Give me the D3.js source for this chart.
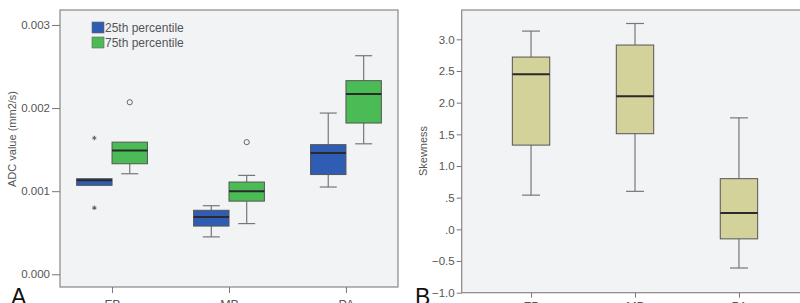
<!DOCTYPE html>
<html>
<head>
<meta charset="utf-8">
<script src="https://cdn.jsdelivr.net/npm/d3@7"></script>
<style>
  body { margin: 0; background: #fff; }
  svg { display: block; font-family: "Liberation Sans", Arial, sans-serif; }
  .tick text { fill: #555; font-size: 11.5px; }
  .tick line { stroke: #777; }
  .domain { display: none; }
</style>
</head>
<body>
<div id="chart"></div>
<script>
const categories = ['FB', 'MB', 'PA'];
const seriesNames = ['25th percentile', '75th percentile'];

// each row: [lower whisker, Q1, median, Q3, upper whisker]
const adc25 = [
  [0.00107, 0.00107, 0.00113, 0.00115, 0.00115],
  [0.00045, 0.00058, 0.00069, 0.00077, 0.000825],
  [0.00105, 0.00120, 0.00146, 0.00156, 0.00194]
];
const adc75 = [
  [0.00121, 0.00133, 0.00149, 0.00159, 0.00159],
  [0.00061, 0.00088, 0.00100, 0.00111, 0.00119],
  [0.00157, 0.00182, 0.00217, 0.00233, 0.00263]
];
const adcOutliers = [
  { cat: 'FB', series: 0, value: 0.00164, kind: 'star' },
  { cat: 'FB', series: 0, value: 0.00080, kind: 'star' },
  { cat: 'FB', series: 1, value: 0.00207, kind: 'circle' },
  { cat: 'MB', series: 1, value: 0.00159, kind: 'circle' }
];
const skewness = [
  [0.54, 1.33, 2.45, 2.72, 3.13],
  [0.60, 1.51, 2.10, 2.91, 3.25],
  [-0.61, -0.15, 0.26, 0.80, 1.76]
];
const adcTicks = [0, 0.001, 0.002, 0.003];
const skewTicks = [-1, -0.5, 0, 0.5, 1, 1.5, 2, 2.5, 3];

const seriesColors = ['#2f5db3', '#4bbb55'];
const skewColor = '#d4d29b';

const W = 800, H = 303;
const svg = d3.select('#chart').append('svg')
  .attr('width', W)
  .attr('height', H);

function drawBox(g, cx, half, stats, y, fill) {
  const [lo, q1, med, q3, hi] = stats;
  const cap = half * 0.48;
  g.append('line')
    .attr('x1', cx).attr('x2', cx)
    .attr('y1', y(hi)).attr('y2', y(q3))
    .attr('stroke', '#777').attr('stroke-width', 1.2);
  g.append('line')
    .attr('x1', cx).attr('x2', cx)
    .attr('y1', y(q1)).attr('y2', y(lo))
    .attr('stroke', '#777').attr('stroke-width', 1.2);
  if (hi > q3) {
    g.append('line')
      .attr('x1', cx - cap).attr('x2', cx + cap)
      .attr('y1', y(hi)).attr('y2', y(hi))
      .attr('stroke', '#777').attr('stroke-width', 1.2);
  }
  if (lo < q1) {
    g.append('line')
      .attr('x1', cx - cap).attr('x2', cx + cap)
      .attr('y1', y(lo)).attr('y2', y(lo))
      .attr('stroke', '#777').attr('stroke-width', 1.2);
  }
  g.append('rect')
    .attr('x', cx - half)
    .attr('y', y(q3))
    .attr('width', half * 2)
    .attr('height', Math.max(y(q1) - y(q3), 1))
    .attr('fill', fill)
    .attr('stroke', '#555')
    .attr('stroke-width', 1);
  g.append('line')
    .attr('x1', cx - half).attr('x2', cx + half)
    .attr('y1', y(med)).attr('y2', y(med))
    .attr('stroke', '#2a2a2a').attr('stroke-width', 2);
}

// =====================
// PANEL A: ADC values
// =====================
const aLeft = 60, aRight = 398, aTop = 10, aBottom = 287;

const ax = d3.scalePoint()
  .domain(categories)
  .range([aLeft, aRight])
  .padding(0.445);

const ay = d3.scaleLinear()
  .domain([-0.000153, 0.00318])
  .range([aBottom, aTop]);

svg.append('rect')
  .attr('x', aLeft).attr('y', aTop)
  .attr('width', aRight - aLeft).attr('height', aBottom - aTop)
  .attr('fill', '#f2f3f5')
  .attr('stroke', '#888')
  .attr('stroke-width', 1.2);

svg.append('g')
  .attr('transform', `translate(${aLeft},0)`)
  .call(d3.axisLeft(ay).tickValues(adcTicks).tickFormat(d3.format('.3f')).tickSize(8).tickPadding(2));

svg.append('g')
  .attr('transform', `translate(0,${aBottom})`)
  .call(d3.axisBottom(ax).tickSize(6).tickPadding(7))
  .selectAll('text').style('font-size', '12.5px');

const aHalf = 17.7;
const aMarks = svg.append('g');
[adc25, adc75].forEach((series, s) => {
  series.forEach((stats, i) => {
    const cx = ax(categories[i]) + (s === 0 ? -aHalf : aHalf);
    drawBox(aMarks, cx, aHalf, stats, ay, seriesColors[s]);
  });
});

adcOutliers.forEach(o => {
  const cx = ax(o.cat) + (o.series === 0 ? -aHalf : aHalf);
  if (o.kind === 'circle') {
    aMarks.append('circle')
      .attr('cx', cx).attr('cy', ay(o.value)).attr('r', 2.6)
      .attr('fill', 'none').attr('stroke', '#666').attr('stroke-width', 1);
  } else {
    aMarks.append('path')
      .attr('transform', `translate(${cx},${ay(o.value)})`)
      .attr('d', d3.symbol(d3.symbolAsterisk, 14)())
      .attr('stroke', '#666').attr('stroke-width', 1.1);
  }
});

// legend
const legend = svg.append('g').attr('transform', 'translate(92,22)');
seriesNames.forEach((name, i) => {
  legend.append('rect')
    .attr('x', 0).attr('y', i * 15)
    .attr('width', 12).attr('height', 11)
    .attr('fill', seriesColors[i])
    .attr('stroke', '#666').attr('stroke-width', 0.6);
  legend.append('text')
    .attr('x', 13).attr('y', i * 15 + 10)
    .attr('fill', '#555')
    .style('font-size', '12px')
    .text(name);
});

svg.append('text')
  .attr('transform', 'translate(16,139) rotate(-90)')
  .attr('text-anchor', 'middle')
  .attr('fill', '#555')
  .style('font-size', '11px')
  .text('ADC value (mm2/s)');

svg.append('text')
  .attr('x', 11).attr('y', 305)
  .attr('fill', '#111')
  .style('font-size', '23px')
  .text('A');

// =====================
// PANEL B: Skewness
// =====================
const bLeft = 461.7, bRight = 808.3, bTop = 10, bBottom = 292.7;

const bx = d3.scalePoint()
  .domain(categories)
  .range([bLeft, bRight])
  .padding(0.667);

const by = d3.scaleLinear()
  .domain([-1, 3.463])
  .range([bBottom, bTop]);

svg.append('rect')
  .attr('x', bLeft).attr('y', bTop)
  .attr('width', bRight - bLeft).attr('height', bBottom - bTop)
  .attr('fill', '#f2f3f5')
  .attr('stroke', '#888')
  .attr('stroke-width', 1.2);

const skewFmt = d => d3.format('.1f')(d).replace(/^(-?)0\./, '$1.');
svg.append('g')
  .attr('transform', `translate(${bLeft},0)`)
  .call(d3.axisLeft(by).tickValues(skewTicks).tickFormat(skewFmt).tickSize(5).tickPadding(2));

svg.append('g')
  .attr('transform', `translate(0,${bBottom})`)
  .call(d3.axisBottom(bx).tickSize(5).tickPadding(4))
  .selectAll('text').style('font-size', '12.5px');

const bMarks = svg.append('g');
skewness.forEach((stats, i) => {
  drawBox(bMarks, bx(categories[i]), 18.7, stats, by, skewColor);
});

svg.append('text')
  .attr('transform', 'translate(427,151) rotate(-90)')
  .attr('text-anchor', 'middle')
  .attr('fill', '#555')
  .style('font-size', '11px')
  .text('Skewness');

svg.append('text')
  .attr('x', 415).attr('y', 305)
  .attr('fill', '#111')
  .style('font-size', '23px')
  .text('B');
</script>
</body>
</html>
